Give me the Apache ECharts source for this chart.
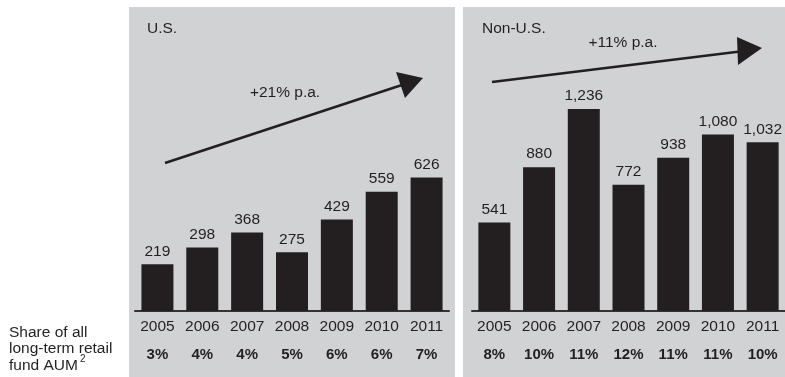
<!DOCTYPE html>
<html>
<head>
<meta charset="utf-8">
<style>
  html, body { margin: 0; padding: 0; background: #fff; }
  #chart { width: 785px; height: 377px; }
</style>
<script src="https://cdn.jsdelivr.net/npm/echarts@6/dist/echarts.min.js"></script>
</head>
<body>
<div id="chart"></div>
<script>
// years on both panels
var years = ['2005', '2006', '2007', '2008', '2009', '2010', '2011']
// U.S. values and share of AUM
var usValues = [219, 298, 368, 275, 429, 559, 626]
var usShare = ['3%', '4%', '4%', '5%', '6%', '6%', '7%']
// Non-U.S. values and share of AUM
var nonUsValues = [541, 880, 1236, 772, 938, 1080, 1032]
var nonUsShare = ['8%', '10%', '11%', '12%', '11%', '11%', '10%']

var font = 'Liberation Sans, Arial, sans-serif'
var ink = '#231f20'
var panel = '#d1d2d4'

function xAxisFor(gridIndex, shares) {
  return {
    type: 'category',
    gridIndex: gridIndex,
    data: years,
    axisTick: { show: false },
    axisLine: { lineStyle: { color: '#333', width: 2 } },
    axisLabel: {
      margin: 2,
      interval: 0,
      formatter: function(val, idx) {
        return '{y|' + val + '}\n{p|' + shares[idx] + '}'
      },
      rich: {
        y: { fontSize: 15.5, fontFamily: font, color: ink, lineHeight: 28 },
        p: { fontSize: 15, fontFamily: font, color: ink, fontWeight: 'bold', lineHeight: 28 }
      }
    }
  }
}

function barSeries(idx, values) {
  return {
    type: 'bar',
    xAxisIndex: idx,
    yAxisIndex: idx,
    data: values,
    barWidth: 32,
    itemStyle: { color: ink },
    label: {
      show: true,
      position: 'top',
      distance: 5,
      fontSize: 15.5,
      fontFamily: font,
      color: ink,
      formatter: function(p) {
        return p.value.toLocaleString('en-US')
      }
    }
  }
}

function txt(x, y, text, size, align) {
  return {
    type: 'text',
    z: 10,
    style: {
      x: x, y: y, text: text,
      fill: ink,
      font: (size || 15) + 'px ' + font,
      textAlign: align || 'left',
      textVerticalAlign: 'middle'
    }
  }
}

var chart = echarts.init(document.getElementById('chart'))
chart.setOption({
  animation: false,
  backgroundColor: '#fff',
  grid: [
    { left: 135, width: 314, top: 20, bottom: 66 },
    { left: 472, width: 313, top: 20, bottom: 66 }
  ],
  xAxis: [xAxisFor(0, usShare), xAxisFor(1, nonUsShare)],
  yAxis: [
    { type: 'value', gridIndex: 0, min: 0, max: 1365, show: false, splitLine: { show: false } },
    { type: 'value', gridIndex: 1, min: 0, max: 1780, show: false, splitLine: { show: false } }
  ],
  series: [barSeries(0, usValues), barSeries(1, nonUsValues)],
  graphic: [
    // gray panels
    { type: 'rect', z: -10, shape: { x: 129, y: 7, width: 326, height: 370 }, style: { fill: panel } },
    { type: 'rect', z: -10, shape: { x: 463, y: 7, width: 322, height: 370 }, style: { fill: panel } },
    // panel titles
    txt(147, 29, 'U.S.', 15.5),
    txt(482, 29, 'Non-U.S.', 15.5),
    // growth annotations
    txt(285, 93, '+21% p.a.', 15.5, 'center'),
    txt(623, 43, '+11% p.a.', 15.5, 'center'),
    { type: 'line', z: 10, shape: { x1: 165, y1: 163, x2: 408, y2: 83 }, style: { stroke: ink, lineWidth: 2.5 } },
    { type: 'polygon', z: 10, shape: { points: [[396, 72], [423, 78], [405, 98]] }, style: { fill: ink } },
    { type: 'line', z: 10, shape: { x1: 492, y1: 82, x2: 744, y2: 51 }, style: { stroke: ink, lineWidth: 2.5 } },
    { type: 'polygon', z: 10, shape: { points: [[737, 37], [762, 48], [738, 65]] }, style: { fill: ink } },
    // row caption
    txt(9, 333, 'Share of all', 15.5),
    txt(9, 349, 'long-term retail', 15.5),
    txt(9, 366, 'fund AUM', 15.5),
    txt(80, 359, '2', 10)
  ]
})
</script>
</body>
</html>
